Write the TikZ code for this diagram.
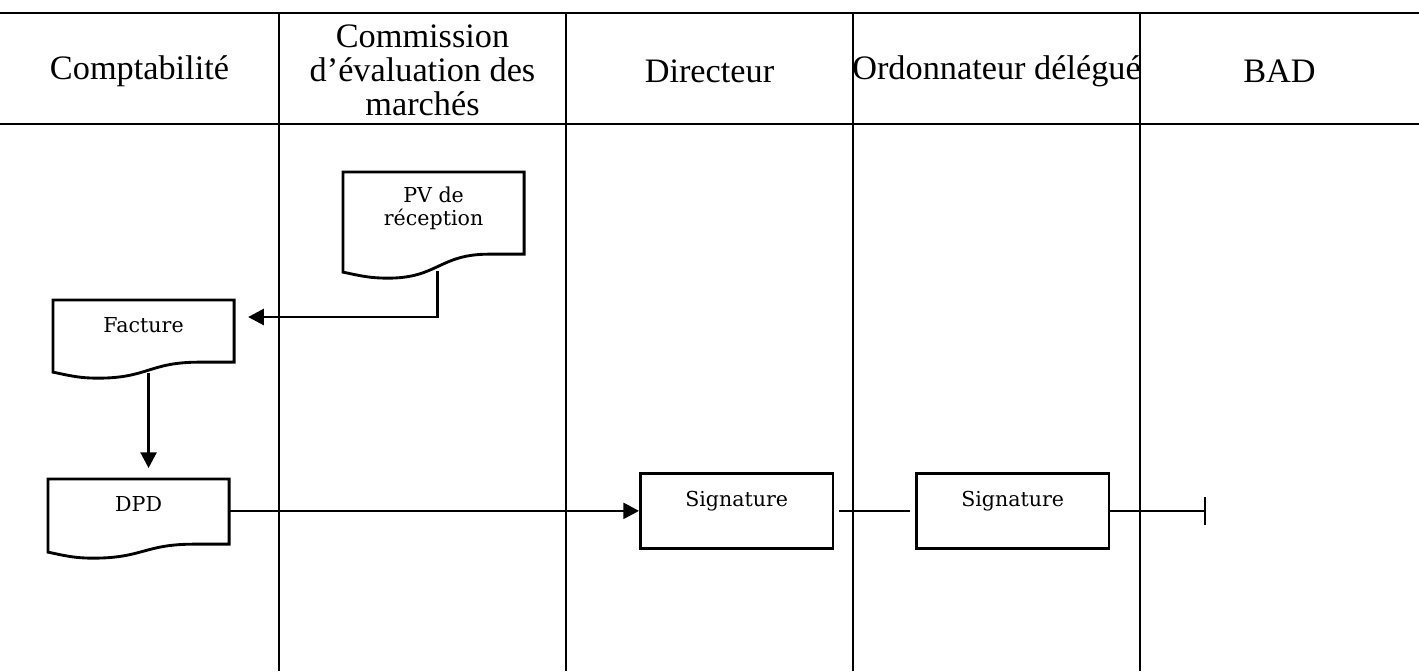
\documentclass[tikz,border=0pt]{standalone}
\usepackage{fontspec}
\setmainfont{Liberation Serif}
\newfontfamily\docfont{DejaVu Serif}
\usetikzlibrary{arrows.meta,calc}

% outline of a document box: wavy lower edge, #2 = rise of the right corner
\newcommand\docshape[2]{%
  \draw[docline] ($(#1.south west)+(0,-6)$) -- (#1.north west) -- (#1.north east)
    -- ($(#1.south east)+(0,-#2)$) -- ++(-35,0)
    .. controls +(-50,0) and +(50,0) .. ($(#1.south west)+(45,0)$)
    .. controls +(-20,0) and +(15,3) .. ($(#1.south west)+(0,-6)$) -- cycle;}

\begin{document}
\begin{tikzpicture}[x=0.35pt, y=-0.35pt,
  lane/.style = {line width=0.6pt},
  head/.style = {align=center, font=\fontsize{12}{11.9}\selectfont},
  doc/.style = {inner sep=0pt, minimum width=63pt, anchor=north west,
    text height=11.2pt, font=\docfont\fontsize{7.2}{8.1}\selectfont},
  docline/.style = {line width=1pt},
  signbox/.style = {draw, line width=1pt, inner sep=0pt, anchor=north west,
    minimum width=67.4pt, text height=11.5pt, text depth=14.7pt,
    font=\docfont\fontsize{7.2}{8.1}\selectfont},
  flow/.style = {line width=0.9pt, -{Triangle[length=5.5pt, width=5.6pt]}},
  link/.style = {line width=0.9pt}]
  \useasboundingbox (0,0) rectangle (1419,671);

  % lanes
  \draw[lane] (0,13) -- (1419,13);
  \draw[lane] (0,124) -- (1419,124);
  \foreach \x in {279,566,853,1140}
    \draw[lane] (\x,13) -- (\x,671);

  \node[head] (compta) at (139.5,71) {Comptabilité};
  \node[head] (cem) at (422.5,70) {Commission\\d’évaluation des\\marchés};
  \node[head] (dir) at (709.5,71) {Directeur};
  \node[head] (ordo) at (996.5,71) {Ordonnateur délégué};
  \node[head] (bad) at (1279.5,71) {BAD};

  % documents
  \node[doc, text height=18.55pt, text depth=18.2pt, align=center] (pv)
    at (343,172) {PV de\\réception};
  \node[doc, text depth=15.75pt] (fac) at (53,300) {Facture};
  \node[doc, text depth=16.1pt] (dpd) at (48,479) {DPD};
  \docshape{pv}{24}
  \docshape{fac}{16}
  \docshape{dpd}{14}

  \node[signbox] (sig1) at (639,472) {Signature};
  \node[signbox] (sig2) at (915,472) {Signature};

  \coordinate (facin) at ($(fac.north east)+(14,17)$);
  \coordinate (fin) at ($(sig2.east)+(96,0)$);

  \draw[flow] ([xshift=1.4pt, yshift=2.45pt]pv.south) |- (facin);
  \draw[flow, shorten >=3.85pt] ([xshift=1.75pt, yshift=1.75pt]fac.south)
    -- ([xshift=1.75pt]fac.south |- dpd.north);
  \draw[flow] (dpd.east |- sig1.west) -- (sig1.west);
  \draw[link, shorten <=1.75pt, shorten >=1.75pt] (sig1.east) -- (sig2.west);
  \draw[link, -{Bar[width=9.8pt]}] (sig2.east) -- (fin);
\end{tikzpicture}
\end{document}
